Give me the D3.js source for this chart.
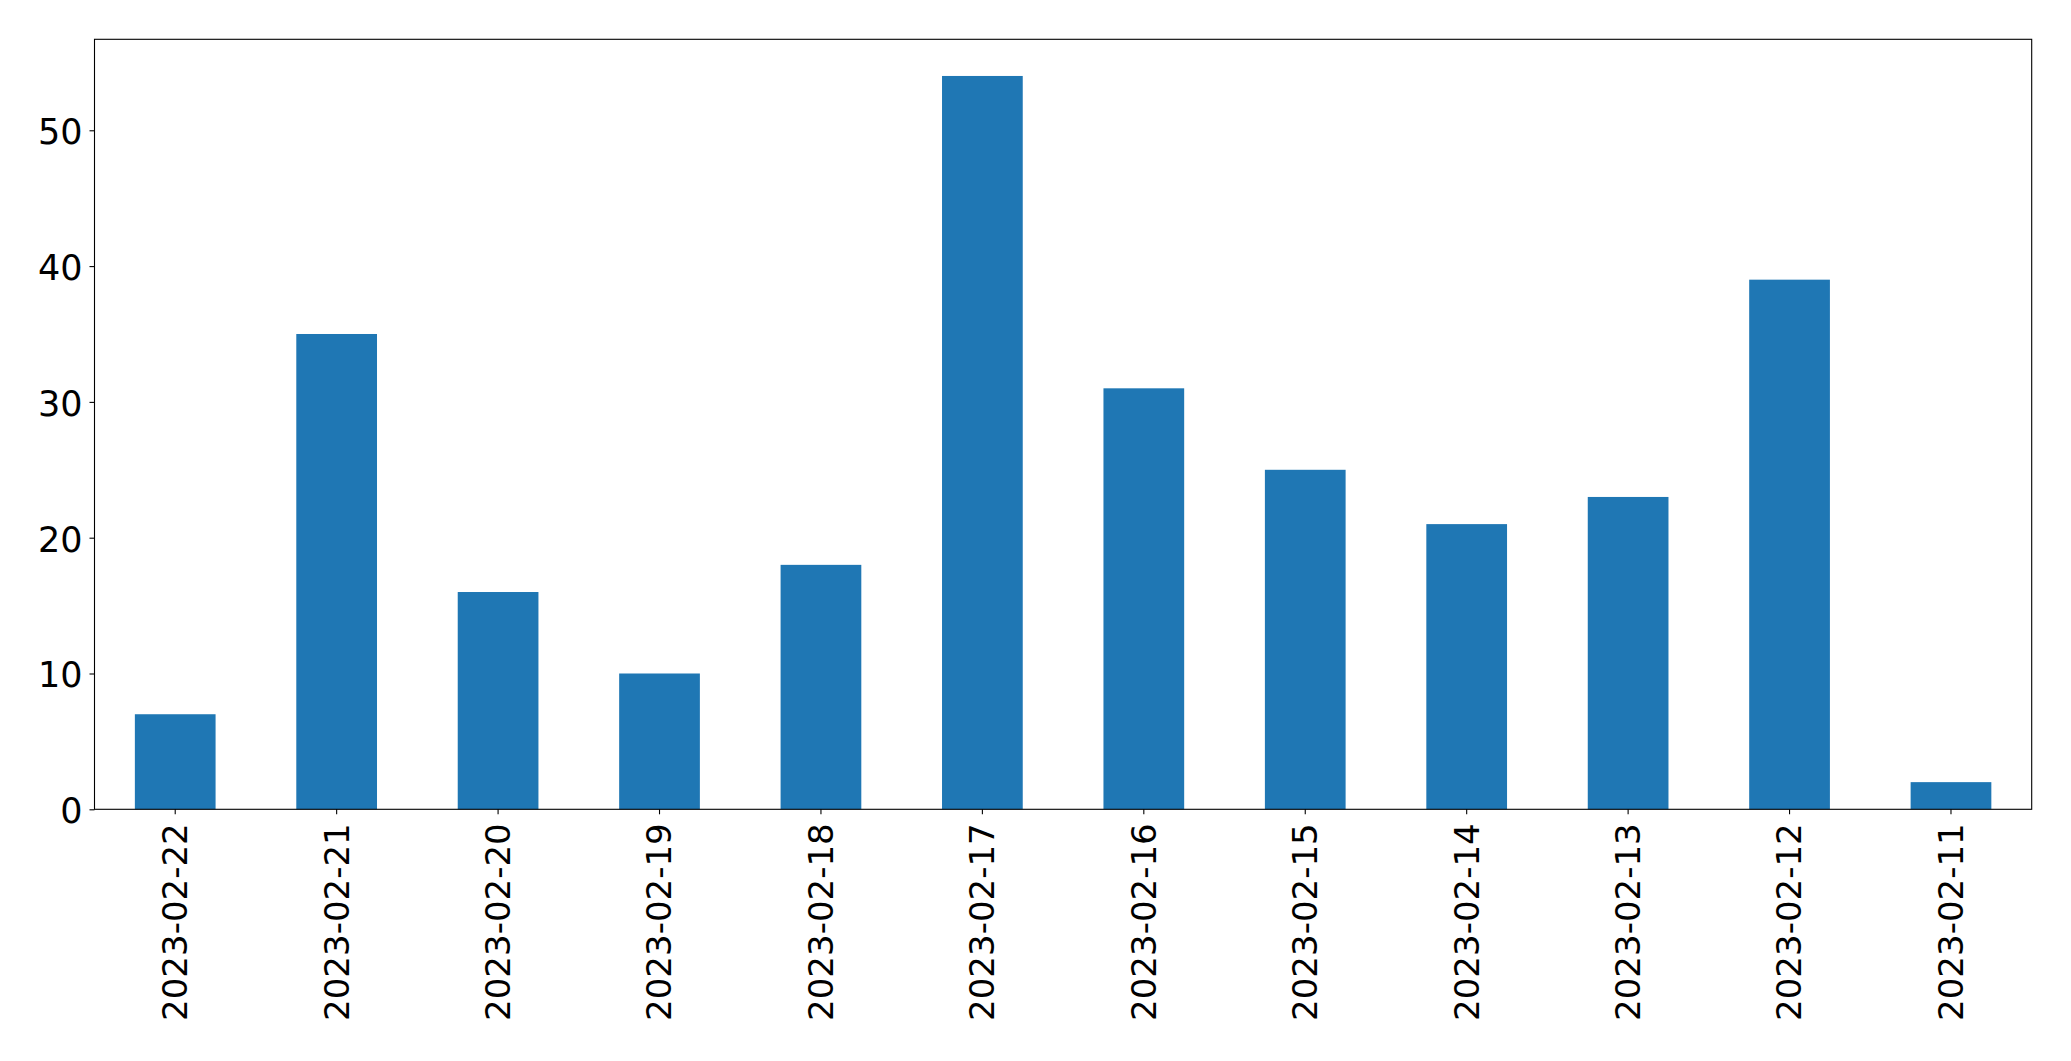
<!DOCTYPE html>
<html>
<head>
<meta charset="utf-8">
<script src="https://cdn.jsdelivr.net/npm/d3@7"></script>
<style>
  html, body { margin: 0; padding: 0; background: #fff; }
  svg { display: block; }
</style>
</head>
<body>
<svg id="chart" width="2071" height="1061"></svg>
<script>
const categories = ["2023-02-22","2023-02-21","2023-02-20","2023-02-19","2023-02-18","2023-02-17","2023-02-16","2023-02-15","2023-02-14","2023-02-13","2023-02-12","2023-02-11"];
const values = [7, 35, 16, 10, 18, 54, 31, 25, 21, 23, 39, 2];
const yTicks = [0, 10, 20, 30, 40, 50];

const W = 2071, H = 1061;
const margin = { left: 94.5, right: W - 2031.7, top: 39.3, bottom: H - 809.3 };
const svg = d3.select("#chart");
const font = "'DejaVu Sans', sans-serif";

const x = d3.scaleBand().domain(categories)
  .range([margin.left, W - margin.right]).paddingInner(0.5).paddingOuter(0.25);
const yMax = d3.max(values) * 1.05;
const y = d3.scaleLinear().domain([0, yMax]).range([H - margin.bottom, margin.top]);

// bars
svg.append("g").selectAll("rect").data(values).join("rect")
  .attr("x", (d, i) => x(categories[i]))
  .attr("y", d => y(d))
  .attr("width", x.bandwidth())
  .attr("height", d => y(0) - y(d))
  .attr("fill", "#1f77b4");

// y axis
const yAxis = svg.append("g").attr("transform", `translate(${margin.left},0)`)
  .call(d3.axisLeft(y).tickValues(yTicks).tickSize(5).tickPadding(7).tickFormat(d3.format("d")));
yAxis.select(".domain").remove();
yAxis.selectAll("line").attr("stroke", "#000").attr("stroke-width", 1.1);
yAxis.selectAll("text").attr("font-family", font).attr("font-size", 35)
  .attr("fill", "#000").attr("dy", "0.38em");

// x axis
const xAxis = svg.append("g").attr("transform", `translate(0,${H - margin.bottom})`)
  .call(d3.axisBottom(x).tickSize(5).tickPadding(0));
xAxis.select(".domain").remove();
xAxis.selectAll("line").attr("stroke", "#000").attr("stroke-width", 1.1);
xAxis.selectAll("text").attr("font-family", font).attr("font-size", 34)
  .attr("fill", "#000")
  .attr("text-anchor", "end")
  .attr("y", 0).attr("dy", "0.35em")
  .attr("transform", "translate(0,14) rotate(-90)");

// frame
svg.append("rect")
  .attr("x", margin.left).attr("y", margin.top)
  .attr("width", W - margin.right - margin.left)
  .attr("height", H - margin.bottom - margin.top)
  .attr("fill", "none").attr("stroke", "#000").attr("stroke-width", 1.1);
</script>
</body>
</html>
